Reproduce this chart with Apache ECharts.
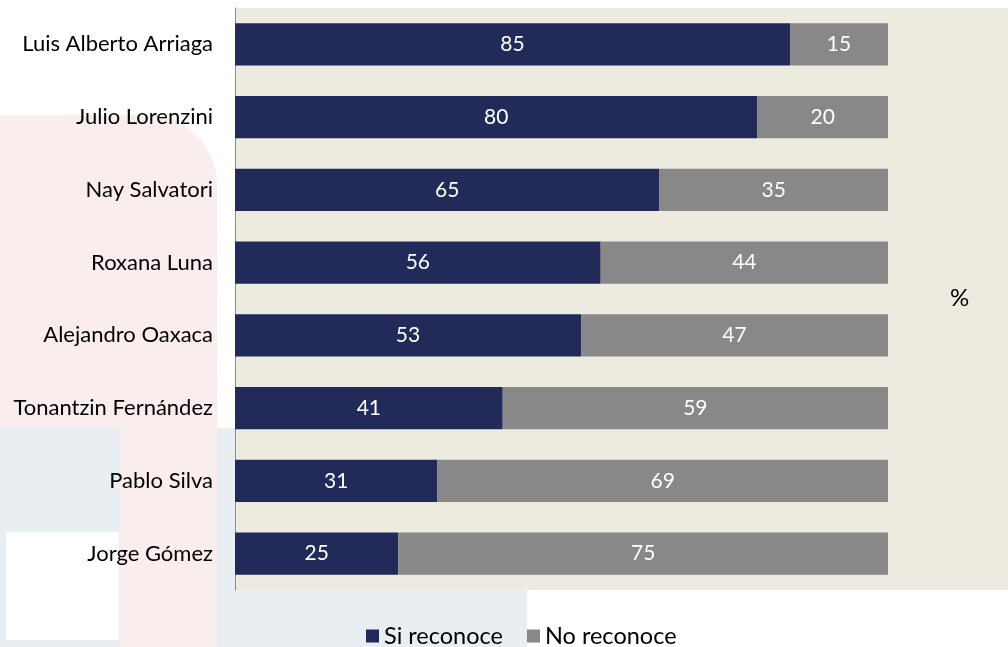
<!DOCTYPE html>
<html>
<head>
<meta charset="utf-8">
<script src="https://cdn.jsdelivr.net/npm/echarts@6/dist/echarts.min.js"></script>
<style>
  html, body { margin: 0; padding: 0; background: #fff; }
  #main { width: 1008px; height: 647px; }
</style>
</head>
<body>
<div id="main"></div>
<script>
// datos (de arriba hacia abajo)
var candidatos = ['Luis Alberto Arriaga', 'Julio Lorenzini', 'Nay Salvatori', 'Roxana Luna',
  'Alejandro Oaxaca', 'Tonantzin Fernández', 'Pablo Silva', 'Jorge Gómez'];
var siReconoce = [85, 80, 65, 56, 53, 41, 31, 25];
var noReconoce = [15, 20, 35, 44, 47, 59, 69, 75];
var nombresSeries = ['Si reconoce', 'No reconoce'];

var fuente = 'Lato';

var myChart = echarts.init(document.getElementById('main'));

var option = {
  animation: false,
  textStyle: { fontFamily: fuente },
  graphic: [
    // fondo decorativo
    { type: 'rect', z: -10, shape: { x: 0, y: 428, width: 527, height: 219 }, style: { fill: '#E9EEF2' } },
    { type: 'rect', z: -9, shape: { x: 0, y: 115, width: 217, height: 313, r: [0, 70, 0, 0] }, style: { fill: '#F9EEED' } },
    { type: 'rect', z: -9, shape: { x: 120, y: 420, width: 97, height: 227 }, style: { fill: '#F9EEED' } },
    { type: 'rect', z: -8, shape: { x: 6, y: 532, width: 113, height: 108 }, style: { fill: '#FFFFFF' } },
    { type: 'rect', z: -7, shape: { x: 235, y: 8, width: 773, height: 582 }, style: { fill: '#EDEAE0' } },
    { type: 'text', left: 950, top: 286, style: { text: '%', font: '24px ' + fuente, fill: '#000' } }
  ],
  legend: {
    data: nombresSeries,
    bottom: -6,
    left: 361,
    itemWidth: 13,
    itemHeight: 13,
    itemGap: 24,
    icon: 'rect',
    textStyle: { fontSize: 23.5, color: '#000', fontFamily: fuente }
  },
  grid: { left: 235, right: 120, top: 8, bottom: 57 },
  xAxis: {
    type: 'value',
    min: 0,
    max: 100,
    show: false
  },
  yAxis: {
    type: 'category',
    inverse: true,
    data: candidatos,
    axisLine: { show: true, lineStyle: { color: '#8C8C8C', width: 1 } },
    axisTick: { show: false },
    axisLabel: { color: '#000', fontSize: 22, margin: 22, fontFamily: fuente }
  },
  series: [
    {
      name: nombresSeries[0],
      type: 'bar',
      stack: 'total',
      barWidth: '58%',
      data: siReconoce,
      itemStyle: { color: '#222A5A' },
      label: { show: true, position: 'inside', color: '#fff', fontSize: 21, fontFamily: fuente }
    },
    {
      name: nombresSeries[1],
      type: 'bar',
      stack: 'total',
      barWidth: '58%',
      data: noReconoce,
      itemStyle: { color: '#888888' },
      label: { show: true, position: 'inside', color: '#fff', fontSize: 21, fontFamily: fuente }
    }
  ]
};

myChart.setOption(option);
</script>
</body>
</html>
